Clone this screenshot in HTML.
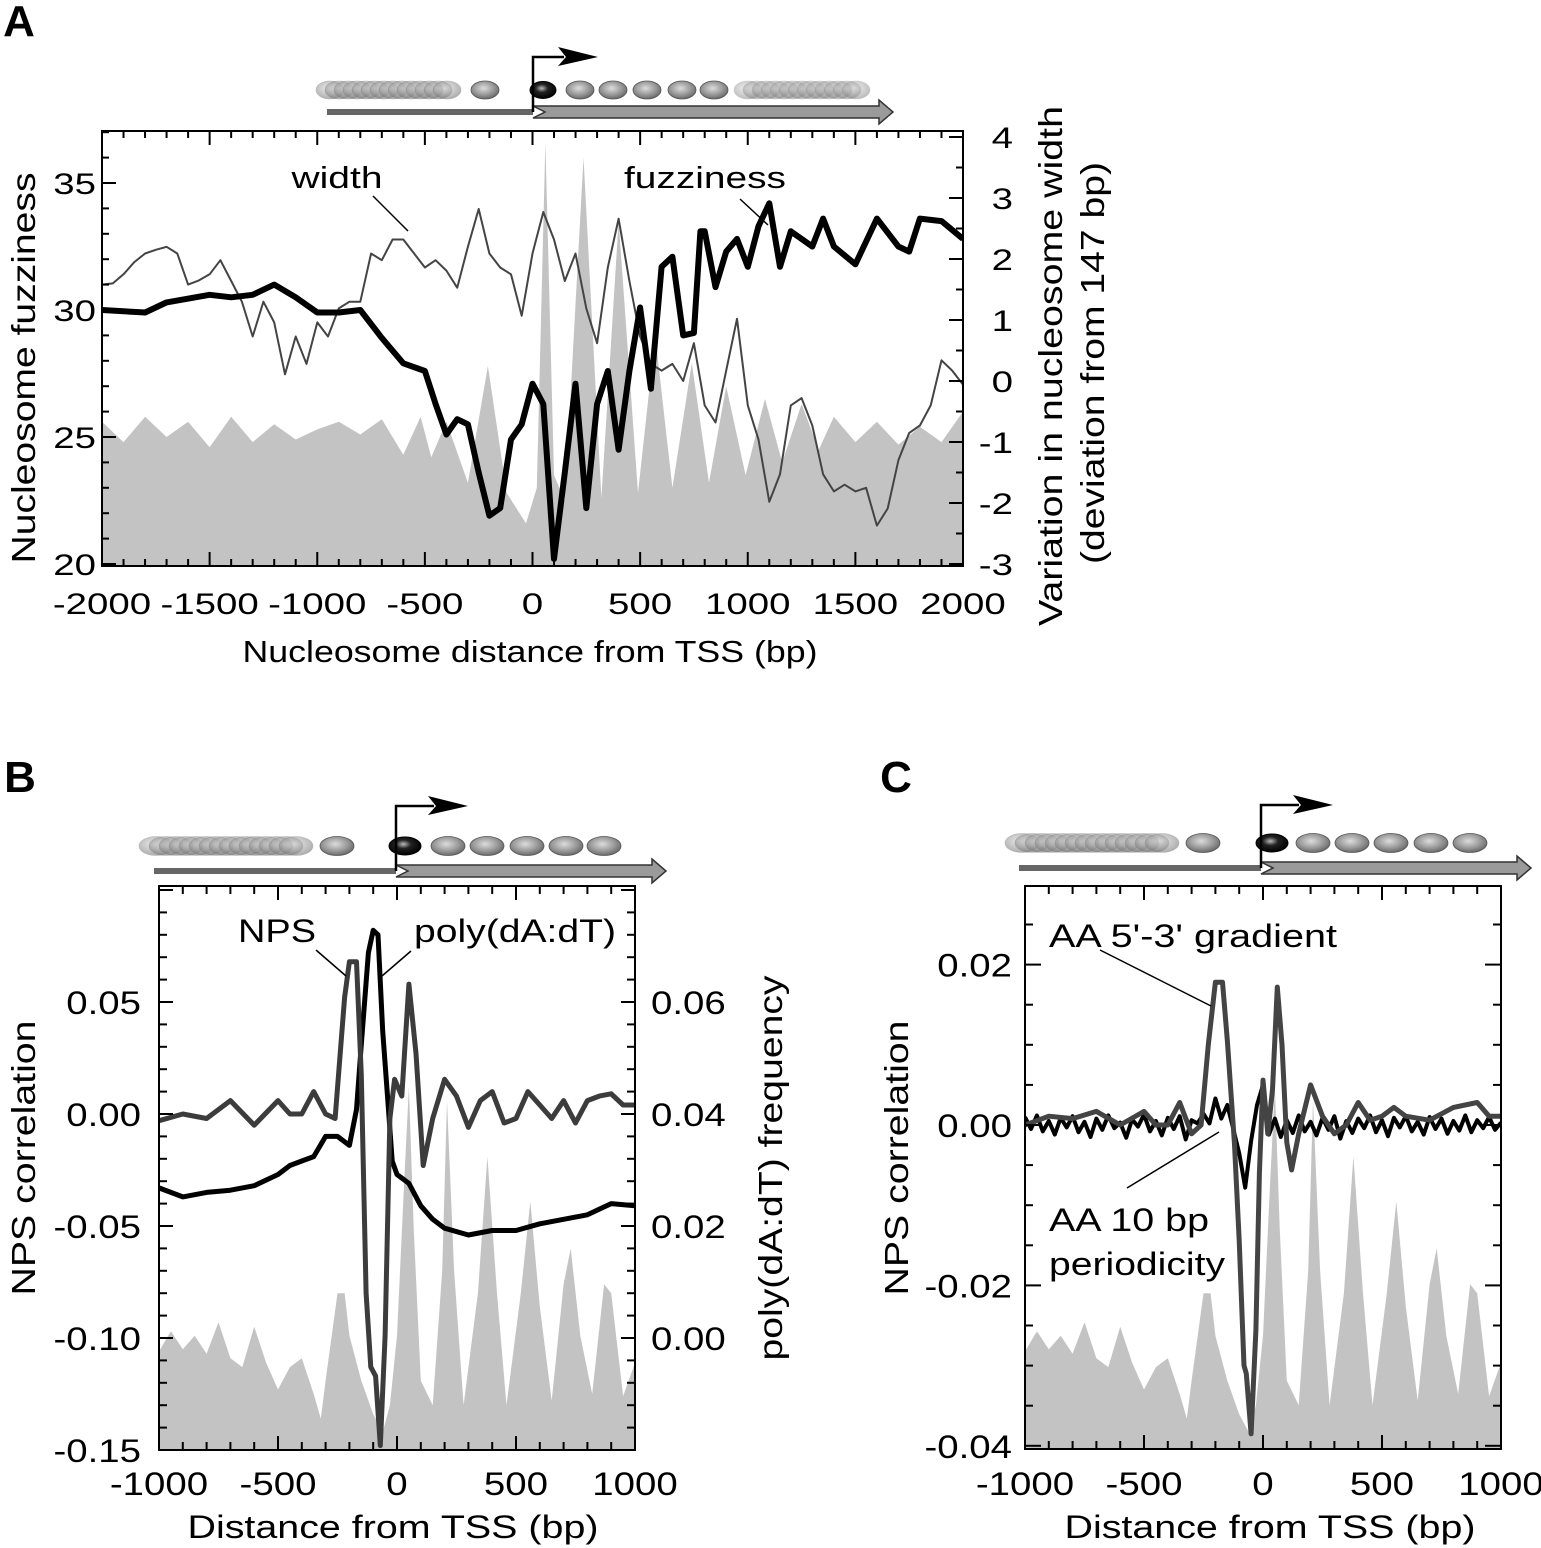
<!DOCTYPE html>
<html><head><meta charset="utf-8">
<style>
html,body{margin:0;padding:0;background:#fff;}
svg{display:block;font-family:"Liberation Sans",Arial,sans-serif;}
</style></head>
<body>
<svg id="fig" xmlns="http://www.w3.org/2000/svg" width="1541" height="1548" viewBox="0 0 1541 1548">
<defs>
<radialGradient id="nucG" cx="0.45" cy="0.4" r="0.6">
<stop offset="0" stop-color="#dcdcdc"/><stop offset="0.6" stop-color="#9a9a9a"/><stop offset="1" stop-color="#6a6a6a"/>
</radialGradient>
<radialGradient id="nucK" cx="0.45" cy="0.4" r="0.6">
<stop offset="0" stop-color="#bbbbbb"/><stop offset="0.4" stop-color="#222"/><stop offset="1" stop-color="#000"/>
</radialGradient>
<clipPath id="clipA"><rect x="102" y="131" width="861" height="435"/></clipPath>
<clipPath id="clipB"><rect x="159" y="886" width="476" height="564"/></clipPath>
<clipPath id="clipC"><rect x="1025" y="886" width="476" height="563"/></clipPath>
</defs>
</svg>
<script>
// ---------- Panel A data ----------
const fuzzX=[-2000,-1800,-1700,-1500,-1400,-1300,-1200,-1100,-1000,-900,-800,-700,-600,-500,-450,-400,-350,-300,-250,-200,-150,-100,-50,0,50,100,150,200,250,300,350,400,450,500,550,600,650,700,750,780,800,850,900,950,1000,1050,1100,1150,1200,1300,1350,1400,1500,1600,1700,1750,1800,1900,2000];
const fuzzY=[30.0,29.9,30.3,30.6,30.5,30.6,31.0,30.5,29.9,29.9,30.0,28.9,27.9,27.6,26.3,25.1,25.7,25.5,23.6,21.9,22.2,24.9,25.5,27.1,26.3,20.2,23.6,27.1,22.2,26.3,27.6,24.5,27.6,30.1,26.9,31.7,32.1,29.0,29.1,33.1,33.1,30.9,32.3,32.8,31.7,33.3,34.2,31.7,33.1,32.5,33.6,32.5,31.8,33.6,32.5,32.3,33.6,33.5,32.8];
const widthStart=-2000, widthStep=50;
const widthY=[1.58,1.6,1.75,1.95,2.09,2.15,2.2,2.09,1.58,1.65,1.75,1.98,1.64,1.3,0.73,1.3,0.96,0.11,0.73,0.28,0.96,0.73,1.19,1.3,1.3,2.09,1.98,2.32,2.32,2.09,1.86,1.98,1.81,1.53,2.2,2.82,2.09,1.86,1.75,1.07,2.09,2.77,2.32,1.64,2.09,1.19,0.62,1.86,2.66,1.64,0.73,0.28,0.17,0.28,0,0.62,-0.4,-0.68,0.17,1.02,-0.4,-0.96,-1.98,-1.53,-0.4,-0.28,-0.73,-1.53,-1.81,-1.7,-1.81,-1.75,-2.37,-2.09,-1.3,-0.85,-0.73,-0.4,0.34,0.17,-0.06];
const occAX=[-2000,-1900,-1800,-1700,-1600,-1500,-1400,-1300,-1200,-1100,-1000,-900,-800,-700,-600,-520,-470,-400,-300,-207,-120,-30,20,60,100,150,237,320,400,490,570,650,740,820,900,990,1080,1160,1250,1330,1400,1500,1600,1700,1800,1900,2000];
const occAY=[25.6,24.8,25.8,25.0,25.6,24.6,25.8,24.8,25.5,24.9,25.3,25.6,25.1,25.7,24.3,25.8,24.2,25.6,23.2,27.8,22.8,21.6,23.0,36.6,23.5,22.5,36.0,22.6,33.5,22.8,29.0,23.0,27.9,23.2,27.0,23.5,26.5,24.0,26.3,24.5,25.8,24.8,25.6,24.7,25.4,24.8,26.0];
const aXTicks=[-2000,-1500,-1000,-500,0,500,1000,1500,2000];
const aLTicks=[20,25,30,35];
const aRTicks=[-3,-2,-1,0,1,2,3,4];
// ---------- Panel B data ----------
const npsX=[-1000,-900,-800,-700,-600,-500,-450,-400,-350,-300,-260,-220,-200,-170,-150,-130,-110,-90,-70,-50,-30,-10,20,50,80,110,150,200,250,300,350,400,450,500,550,600,650,700,750,800,850,900,950,1000];
const npsY=[-0.003,0,-0.002,0.006,-0.005,0.006,0,0,0.01,0,-0.002,0.052,0.068,0.068,0.0175,-0.08,-0.113,-0.117,-0.148,-0.099,-0.002,0.0155,0.008,0.058,0.027,-0.023,-0.002,0.0155,0.008,-0.006,0.006,0.01,-0.004,-0.002,0.01,0.004,-0.002,0.006,-0.004,0.006,0.008,0.009,0.004,0.004];
const polyX=[-1000,-900,-800,-700,-600,-500,-450,-400,-350,-300,-250,-200,-170,-150,-120,-100,-80,-60,-40,-20,0,50,100,150,200,300,400,500,600,700,800,900,1000];
const polyY=[0.0268,0.0252,0.026,0.0264,0.0272,0.0292,0.0308,0.0316,0.0324,0.036,0.036,0.0344,0.0408,0.0524,0.0688,0.0728,0.072,0.0548,0.0432,0.0316,0.0292,0.0276,0.0236,0.0212,0.0196,0.0184,0.0192,0.0192,0.0204,0.0212,0.022,0.024,0.0236];
const occX=[-1000,-950,-900,-850,-800,-750,-700,-650,-600,-550,-500,-450,-400,-350,-320,-300,-250,-220,-200,-150,-100,-60,-30,0,30,50,70,100,150,190,210,240,280,340,380,420,460,520,560,600,650,700,730,770,820,870,900,950,1000];
const occY=[-0.106,-0.097,-0.105,-0.099,-0.107,-0.093,-0.109,-0.113,-0.095,-0.111,-0.123,-0.113,-0.109,-0.125,-0.136,-0.119,-0.080,-0.080,-0.099,-0.119,-0.134,-0.142,-0.130,-0.099,-0.031,0.012,-0.051,-0.119,-0.130,-0.070,0.006,-0.070,-0.130,-0.080,-0.019,-0.080,-0.130,-0.080,-0.039,-0.086,-0.128,-0.076,-0.060,-0.099,-0.125,-0.076,-0.080,-0.126,-0.111];
const bXTicks=[-1000,-500,0,500,1000];
const bLTicks=[0.05,0.00,-0.05,-0.10,-0.15];
const bLLabels=["0.05","0.00","-0.05","-0.10","-0.15"];
const bRTicks=[0.06,0.04,0.02,0.00];
const bRLabels=["0.06","0.04","0.02","0.00"];
// ---------- Panel C data ----------
const gradX=[-1000,-900,-800,-700,-600,-500,-450,-400,-350,-300,-260,-230,-200,-170,-150,-120,-100,-80,-70,-50,-30,-15,0,20,40,60,80,100,120,150,200,250,300,350,400,450,500,550,600,700,800,900,950,1000];
const gradY=[0,0.0011,0.0008,0.0017,0,0.0017,0,0,0.0028,-0.0011,0,0.01,0.0178,0.0178,0.0106,-0.0022,-0.0144,-0.03,-0.031,-0.0385,-0.0256,-0.006,0.0056,-0.0011,0.0044,0.0172,0.01,-0.0022,-0.0056,-0.0011,0.005,0.0011,-0.0011,0,0.0028,0.0006,0.0011,0.0022,0.0011,0.0006,0.0022,0.0028,0.0011,0.0011];
const tenStart=-1000, tenStep=25;
const tenY=[0.001,-0.0005,0.0012,-0.0008,0.0005,-0.0012,0.0009,-0.0003,0.0011,-0.0009,
0.0004,-0.0015,0.0008,-0.0006,0.0012,-0.0004,0.0003,-0.0016,0.0007,-0.0002,
0.0013,-0.0008,0.0005,-0.0013,0.0009,-0.0005,0.0011,-0.0018,0.0006,0.0002,
0.0014,0.0002,0.0033,0.0008,0.0025,-0.0005,-0.0035,-0.0078,-0.002,0.0025,
0.005,-0.0012,0.0008,-0.0015,0.0006,-0.0010,0.0012,-0.0008,0.0004,-0.0013,
0.0009,-0.0006,0.0011,-0.0017,0.0005,-0.0010,0.0008,-0.0004,0.0012,-0.0009,
0.0006,-0.0014,0.0009,-0.0003,0.0011,-0.0008,0.0004,-0.0012,0.0010,-0.0005,
0.0008,-0.0011,0.0005,-0.0007,0.0012,-0.0009,0.0006,-0.0004,0.0010,-0.0006,0.0003];
const cXTicks=[-1000,-500,0,500,1000];
const cLTicks=[0.02,0.00,-0.02,-0.04];
const cLLabels=["0.02","0.00","-0.02","-0.04"];

const NS="http://www.w3.org/2000/svg";
const svg=document.getElementById('fig');
function mk(tag,attrs,name,parent){
  const el=document.createElementNS(NS,tag);
  for(const k in attrs) el.setAttribute(k,attrs[k]);
  
  
  (parent||svg).appendChild(el);
  return el;
}
function T(str,x,y,size,anchor,name,stretch,opt){
  opt=opt||{};
  const el=document.createElementNS(NS,'text');
  el.setAttribute('x',x);el.setAttribute('y',y);
  el.setAttribute('font-size',size);
  el.setAttribute('text-anchor',anchor);
  if(opt.weight) el.setAttribute('font-weight',opt.weight);
  if(opt.rot) el.setAttribute('transform','rotate(-90 '+x+' '+y+')');
  el.textContent=str;
  
  
  svg.appendChild(el);
  if(opt.len){el.setAttribute('textLength',opt.len);el.setAttribute('lengthAdjust','spacingAndGlyphs');}
  else if(stretch && stretch!==1){
    const w=el.getComputedTextLength();
    el.setAttribute('textLength',(w*stretch).toFixed(1));
    el.setAttribute('lengthAdjust','spacingAndGlyphs');
  }
  return el;
}
function path(xs,ys,fx,fy){return xs.map((v,i)=>(i?'L':'M')+fx(v).toFixed(1)+' '+fy(ys[i]).toFixed(1)).join(' ');}
function area(xs,ys,fx,fy,base){return 'M'+fx(xs[0]).toFixed(1)+' '+base+' '+xs.map((v,i)=>'L'+fx(v).toFixed(1)+' '+fy(ys[i]).toFixed(1)).join(' ')+' L'+fx(xs[xs.length-1]).toFixed(1)+' '+base+' Z';}

// ---------- scales ----------
const xA=v=>102+(v+2000)/4000*861;
const yAL=v=>564-(v-20)*25.4;
const yAR=v=>381-v*61;
const xB=v=>159+(v+1000)/2000*476;
const yBL=v=>1114-v*2240;
const yBR=r=>yBL((r-0.04)/0.4);
const xC=v=>1025+(v+1000)/2000*476;
const yC=v=>1125-v*8020;

// ---------- schematics ----------
function schematic(pfx,cy,rx,ry,clL,clR,clStep,single,black,nucs,clR2a,clR2b,barY,barL,tss,tip,arrTop,arrTip){
  const g=mk('g',{},pfx+'-promoter-schematic');
  for(let c=clL;c<=clR;c+=clStep){
    const e=mk('ellipse',{cx:c,cy:cy,rx:rx,ry:ry,fill:'url(#nucG)',stroke:'#777','stroke-width':0.6,opacity:0.55},pfx+'-fuzzy-nucleosome',g);
  }
  if(clR2a!==null){
    for(let c=clR2a;c<=clR2b;c+=clStep){
      mk('ellipse',{cx:c,cy:cy,rx:rx,ry:ry,fill:'url(#nucG)',stroke:'#888','stroke-width':0.6,opacity:0.45},pfx+'-fuzzy-nucleosome',g);
    }
  }
  mk('ellipse',{cx:single,cy:cy,rx:rx,ry:ry,fill:'url(#nucG)',stroke:'#555','stroke-width':0.8},pfx+'-minus1-nucleosome',g);
  nucs.forEach(c=>{mk('ellipse',{cx:c,cy:cy,rx:rx,ry:ry,fill:'url(#nucG)',stroke:'#555','stroke-width':0.8},pfx+'-nucleosome',g);});
  mk('rect',{x:barL,y:barY-3,width:tss-barL,height:6,fill:'#666'},pfx+'-upstream-bar',g);
  mk('path',{d:`M${tss} ${barY-6} L${tip-14} ${barY-6} L${tip-14} ${barY-12} L${tip} ${barY} L${tip-14} ${barY+12} L${tip-14} ${barY+6} L${tss} ${barY+6} L${tss+12} ${barY} Z`,fill:'#9a9a9a',stroke:'#333','stroke-width':1.5},pfx+'-transcript-arrow',g);
  mk('ellipse',{cx:black,cy:cy,rx:rx-1,ry:ry-0.5,fill:'url(#nucK)',stroke:'#000','stroke-width':1},pfx+'-plus1-nucleosome',g);
  mk('path',{d:`M${tss} ${barY} L${tss} ${arrTop} L${arrTip-34} ${arrTop}`,fill:'none',stroke:'#000','stroke-width':2.5},pfx+'-tss-line',g);
  mk('path',{d:`M${arrTip-40} ${arrTop-10} L${arrTip} ${arrTop} L${arrTip-40} ${arrTop+9} L${arrTip-32} ${arrTop} Z`,fill:'#000'},pfx+'-tss-arrowhead',g);
}
schematic('a',90,14,9,330,450,9,485,543,[580,613,647,682,714],748,860,112,327,533,893,57,598);
schematic('b',846,17,9.5,156,296,10,337,405,[448,487,527,566,604],null,null,871,154,396,666,806,468);
schematic('c',843,17,9.5,1022,1166,10,1203,1272,[1313,1352,1391,1431,1470],null,null,868,1019,1261,1531,805,1333);

// ---------- Panel A ----------
mk('path',{d:area(occAX,occAY,xA,yAL,566),fill:'#c3c3c3','clip-path':'url(#clipA)'},'a-occupancy-area');
const widthX=widthY.map((v,i)=>widthStart+i*widthStep);
mk('path',{d:path(widthX,widthY,xA,yAR),fill:'none',stroke:'#444','stroke-width':2,'stroke-linejoin':'round','clip-path':'url(#clipA)'},'a-width-line');
mk('path',{d:path(fuzzX,fuzzY,xA,yAL),fill:'none',stroke:'#000','stroke-width':6,'stroke-linejoin':'round','clip-path':'url(#clipA)'},'a-fuzziness-line');
mk('rect',{x:102,y:131,width:861,height:435,fill:'none',stroke:'#000','stroke-width':2},'a-plot-frame');
for(let v=-2000;v<=2000;v+=100){
  const len=(v%500===0)?14:7;
  const x=xA(v);
  mk('line',{x1:x,y1:566,x2:x,y2:566-len,stroke:'#000','stroke-width':2},'a-x-tick');
  mk('line',{x1:x,y1:131,x2:x,y2:131+len,stroke:'#000','stroke-width':2},'a-x-tick-top');
}
for(let v=20;v<=37;v++){
  const len=(v%5===0)?14:7;
  mk('line',{x1:102,y1:yAL(v),x2:102+len,y2:yAL(v),stroke:'#000','stroke-width':2},'a-left-tick');
}
for(let v=-3;v<=4;v+=0.5){
  const len=(Number.isInteger(v))?14:7;
  mk('line',{x1:963,y1:yAR(v),x2:963-len,y2:yAR(v),stroke:'#000','stroke-width':2},'a-right-tick');
}
aXTicks.forEach(v=>T(String(v),xA(v),614,30,'middle','a-x-tick-label',1.28));
aLTicks.forEach(v=>T(String(v),96,yAL(v)+11,30,'end','a-left-tick-label',1.28));
aRTicks.forEach(v=>T(String(v),1013,yAR(v)+11,30,'end','a-right-tick-label',1.28));
T('Nucleosome distance from TSS (bp)',530,662,31,'middle','a-x-axis-title',1,{len:575});
T('Nucleosome fuzziness',35,368,33,'middle','a-left-axis-title',1,{rot:1,len:391});
T('Variation in nucleosome width',1062,366,33,'middle','a-right-axis-title',1,{rot:1,len:520});
T('(deviation from 147 bp)',1104,363,33,'middle','a-right-axis-subtitle',1,{rot:1,len:402});
T('width',337,188,31,'middle','a-width-label',1,{len:91});
mk('line',{x1:373,y1:196,x2:408,y2:231,stroke:'#000','stroke-width':1.5},'a-width-leader');
T('fuzziness',705,188,31,'middle','a-fuzziness-label',1,{len:162});
mk('line',{x1:740,y1:199,x2:768,y2:225,stroke:'#000','stroke-width':1.5},'a-fuzziness-leader');
T('A',19,36,44,'middle','panel-a-letter',1,{weight:'bold'});

// ---------- Panel B ----------
mk('path',{d:area(occX,occY,xB,yBL,1450),fill:'#c3c3c3','clip-path':'url(#clipB)'},'b-occupancy-area');
mk('path',{d:path(polyX,polyY,xB,yBR),fill:'none',stroke:'#000','stroke-width':5,'stroke-linejoin':'round','clip-path':'url(#clipB)'},'b-polyat-line');
mk('path',{d:path(npsX,npsY,xB,yBL),fill:'none',stroke:'#3c3c3c','stroke-width':5,'stroke-linejoin':'round','clip-path':'url(#clipB)'},'b-nps-line');
mk('rect',{x:159,y:886,width:476,height:564,fill:'none',stroke:'#000','stroke-width':2},'b-plot-frame');
for(let v=-1000;v<=1000;v+=100){
  const len=(v%500===0)?14:8;
  const x=xB(v);
  mk('line',{x1:x,y1:1450,x2:x,y2:1450-len,stroke:'#000','stroke-width':2},'b-x-tick');
  mk('line',{x1:x,y1:886,x2:x,y2:886+len,stroke:'#000','stroke-width':2},'b-x-tick-top');
}
for(let i=-15;i<=10;i++){
  const v=i/100, len=(i%5===0)?14:8, y=yBL(v);
  mk('line',{x1:159,y1:y,x2:159+len,y2:y,stroke:'#000','stroke-width':2},'b-left-tick');
  mk('line',{x1:635,y1:y,x2:635-len,y2:y,stroke:'#000','stroke-width':2},'b-right-tick');
}
bXTicks.forEach(v=>T(String(v),xB(v),1495,32,'middle','b-x-tick-label',1.2));
bLTicks.forEach((v,i)=>T(bLLabels[i],141,yBL(v)+12,32,'end','b-left-tick-label',1.2));
bRTicks.forEach((v,i)=>T(bRLabels[i],651,yBR(v)+12,32,'start','b-right-tick-label',1.2));
T('Distance from TSS (bp)',393,1538,32,'middle','b-x-axis-title',1,{len:411});
T('NPS correlation',35,1158,33,'middle','b-left-axis-title',1,{rot:1,len:275});
T('poly(dA:dT) frequency',782,1168,33,'middle','b-right-axis-title',1,{rot:1,len:385});
T('NPS',277,942,32,'middle','b-nps-label',1,{len:78});
mk('line',{x1:316,y1:950,x2:346,y2:976,stroke:'#000','stroke-width':1.5},'b-nps-leader');
T('poly(dA:dT)',515,942,32,'middle','b-polyat-label',1,{len:202});
mk('line',{x1:411,y1:951,x2:382,y2:976,stroke:'#000','stroke-width':1.5},'b-polyat-leader');
T('B',20,792,44,'middle','panel-b-letter',1,{weight:'bold'});

// ---------- Panel C ----------
mk('path',{d:area(occX,occY,xC,yBL,1449),fill:'#c3c3c3','clip-path':'url(#clipC)'},'c-occupancy-area');
const tenX=tenY.map((v,i)=>tenStart+i*tenStep);
mk('path',{d:path(tenX,tenY,xC,yC),fill:'none',stroke:'#000','stroke-width':4,'stroke-linejoin':'round','clip-path':'url(#clipC)'},'c-aa-10bp-line');
mk('path',{d:path(gradX,gradY,xC,yC),fill:'none',stroke:'#444','stroke-width':5,'stroke-linejoin':'round','clip-path':'url(#clipC)'},'c-aa-gradient-line');
mk('rect',{x:1025,y:886,width:476,height:563,fill:'none',stroke:'#000','stroke-width':2},'c-plot-frame');
for(let v=-1000;v<=1000;v+=100){
  const len=(v%500===0)?14:8;
  const x=xC(v);
  mk('line',{x1:x,y1:1449,x2:x,y2:1449-len,stroke:'#000','stroke-width':2},'c-x-tick');
  mk('line',{x1:x,y1:886,x2:x,y2:886+len,stroke:'#000','stroke-width':2},'c-x-tick-top');
}
for(let i=-8;i<=5;i++){
  const v=i*0.005, len=(i%4===0)?16:8, y=yC(v);
  mk('line',{x1:1025,y1:y,x2:1025+len,y2:y,stroke:'#000','stroke-width':2},'c-left-tick');
  mk('line',{x1:1501,y1:y,x2:1501-len,y2:y,stroke:'#000','stroke-width':2},'c-right-tick');
}
cXTicks.forEach(v=>T(String(v),xC(v),1495,32,'middle','c-x-tick-label',1.2));
cLTicks.forEach((v,i)=>T(cLLabels[i],1012,yC(v)+12,32,'end','c-left-tick-label',1.2));
T('Distance from TSS (bp)',1270,1538,32,'middle','c-x-axis-title',1,{len:411});
T('NPS correlation',908,1158,33,'middle','c-left-axis-title',1,{rot:1,len:275});
T("AA 5'-3' gradient",1193,947,32,'middle','c-aa-gradient-label',1,{len:288});
mk('line',{x1:1100,y1:950,x2:1211,y2:1006,stroke:'#000','stroke-width':1.5},'c-aa-gradient-leader');
T('AA 10 bp',1129,1231,32,'middle','c-aa-10bp-label',1,{len:160});
T('periodicity',1137,1275,32,'middle','c-aa-10bp-label-line2',1,{len:176});
mk('line',{x1:1127,y1:1188,x2:1219,y2:1132,stroke:'#000','stroke-width':1.5},'c-aa-10bp-leader');
T('C',896,792,44,'middle','panel-c-letter',1,{weight:'bold'});
</script>
</body></html>
